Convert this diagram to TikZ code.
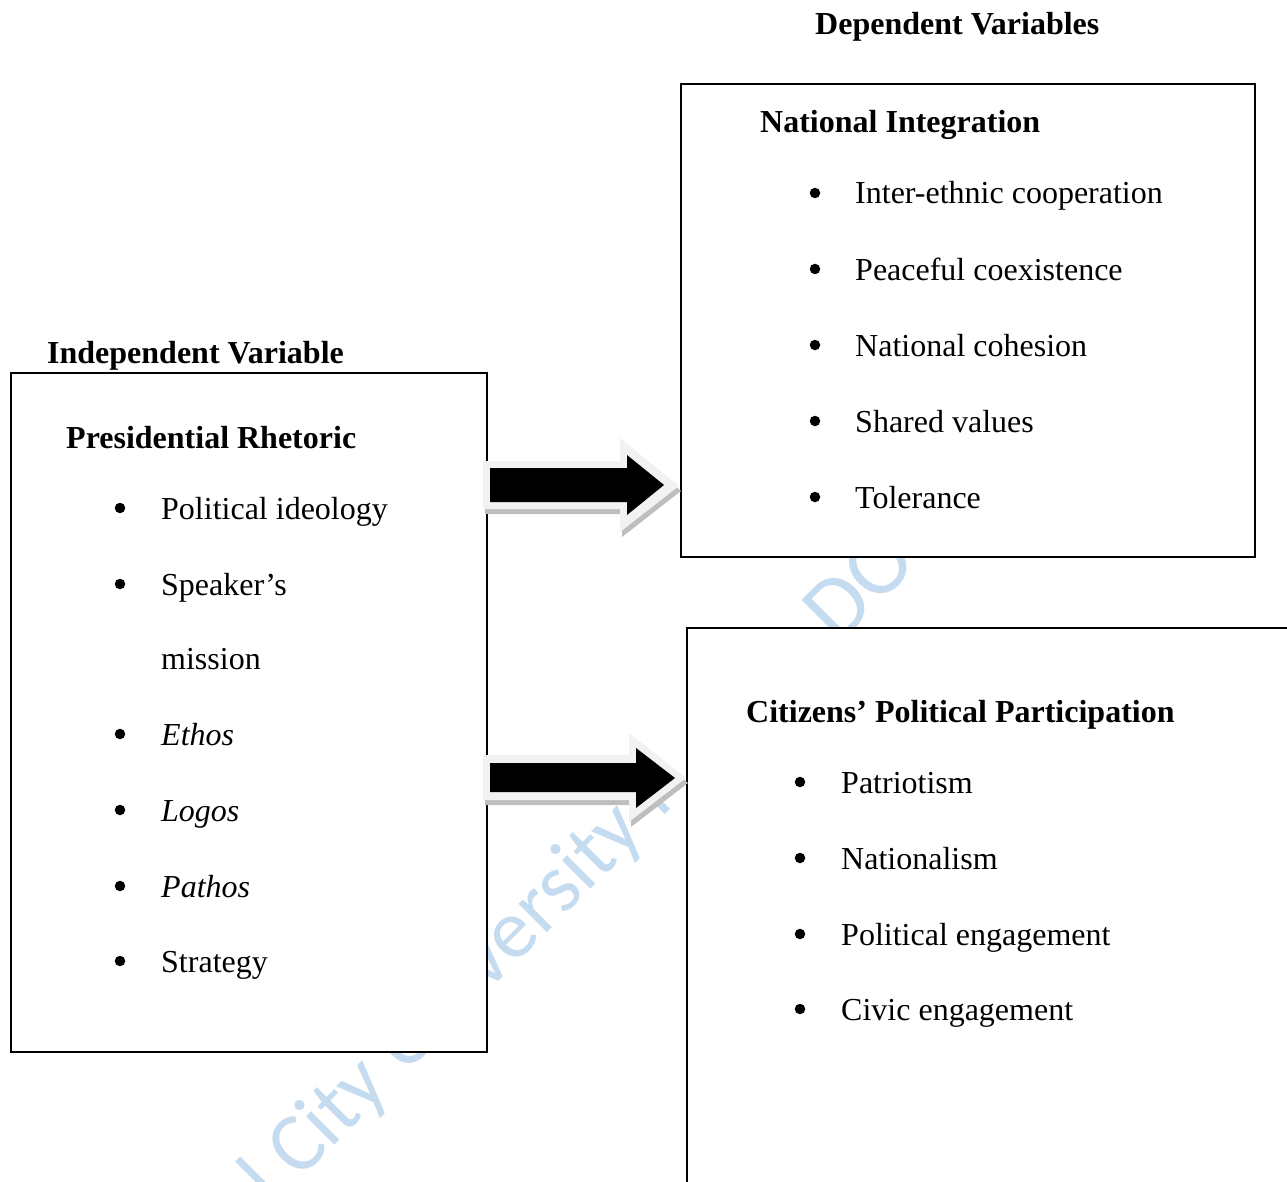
\documentclass[tikz,border=0pt]{standalone}
\usepackage{fontspec}
\setmainfont{Liberation Serif}
\newfontfamily\wmfont{Carlito}
\definecolor{wmblue}{RGB}{197,220,240}
\definecolor{arrlight}{RGB}{242,242,242}
\definecolor{arrshade}{RGB}{190,190,190}
\begin{document}
\begin{tikzpicture}[x=1pt,y=-1pt,
  box/.style={draw=black, line width=1.6pt, fill=white, inner sep=0pt, anchor=north west},
  hdr/.style={anchor=base west, inner sep=0pt, font=\fontsize{32}{38}\selectfont\bfseries},
  itm/.style={anchor=base west, inner sep=0pt, font=\fontsize{32}{38}\selectfont},
  dot/.style={circle, fill=black, inner sep=0pt, minimum size=10.5pt},
  wm/.style={text=wmblue, font=\wmfont\fontsize{84}{84}\selectfont, inner sep=0pt, anchor=base west, rotate=45},
  arrout/.style={fill=arrlight},
  arrshadow/.style={fill=arrshade},
  arrcore/.style={fill=black}
]
\useasboundingbox (0,0) rectangle (1287,1182);
\clip (0,0) rectangle (1287,1182);

% watermark
\node[wm] (wm1) at (272,1208) {l City University I};
\node[wm, font=\wmfont\fontsize{90}{90}\selectfont] (wm2) at (838,646) {DO};

% boxes
\node[box, minimum width=476pt, minimum height=679pt] (iv) at (10,372) {};
\node[box, minimum width=574pt, minimum height=473pt] (ni) at (680,83) {};
\node[box, minimum width=700pt, minimum height=700pt] (cp) at (686,627) {};

% block arrow 1
\coordinate (a1) at (490,485);
\fill[arrshadow] (485,466) -- (622,466) -- (622,443) -- (681,491) -- (622,537) -- (622,514) -- (485,514) -- cycle;
\fill[arrout] (483,461) -- (620,461) -- (620,438) -- (679,486) -- (620,532) -- (620,509) -- (483,509) -- cycle;
\fill[arrcore] (490,468) -- (627,468) -- (627,455) -- (664,485) -- (627,515) -- (627,502) -- (490,502) -- cycle;

% block arrow 2
\coordinate (a2) at (490,778);
\fill[arrshadow] (485,760) -- (631,760) -- (631,738) -- (688,783) -- (631,827) -- (631,805) -- (485,805) -- cycle;
\fill[arrout] (483,755) -- (629,755) -- (629,733) -- (686,778) -- (629,822) -- (629,800) -- (483,800) -- cycle;
\fill[arrcore] (490,763) -- (636,763) -- (636,748) -- (675,778) -- (636,808) -- (636,792) -- (490,792) -- cycle;

% headings
\node[hdr] (dv) at (815,35) {Dependent Variables};
\node[hdr] (idv) at (47,363) {Independent Variable};
\node[hdr] (h1) at (760,133) {National Integration};
\node[hdr] (h2) at (66,448) {Presidential Rhetoric};
\node[hdr] (h3) at (746,722) {Citizens’ Political Participation};

% National Integration items
\foreach \t/\y [count=\i] in {Inter-ethnic cooperation/204, Peaceful coexistence/280, National cohesion/356, Shared values/432, Tolerance/508}{
  \node[dot] (nb\i) at (815,\y-11) {};
  \node[itm] (nt\i) at (855,\y) {\t};
}

% Presidential Rhetoric items
\node[dot] (pb1) at (120,508) {};
\node[itm] (pt1) at (161,519) {Political ideology};
\node[dot] (pb2) at (120,584) {};
\node[itm] (pt2) at (161,595) {Speaker’s};
\node[itm] (pt2b) at (161,669) {mission};
\node[dot] (pb3) at (120,734) {};
\node[itm] (pt3) at (161,745) {\itshape Ethos};
\node[dot] (pb4) at (120,810) {};
\node[itm] (pt4) at (161,821) {\itshape Logos};
\node[dot] (pb5) at (120,886) {};
\node[itm] (pt5) at (161,897) {\itshape Pathos};
\node[dot] (pb6) at (120,961) {};
\node[itm] (pt6) at (161,972) {Strategy};

% Citizens' Political Participation items
\foreach \t/\y [count=\i] in {Patriotism/793, Nationalism/869, Political engagement/945, Civic engagement/1020}{
  \node[dot] (cb\i) at (800,\y-11) {};
  \node[itm] (ct\i) at (841,\y) {\t};
}
\end{tikzpicture}
\end{document}
